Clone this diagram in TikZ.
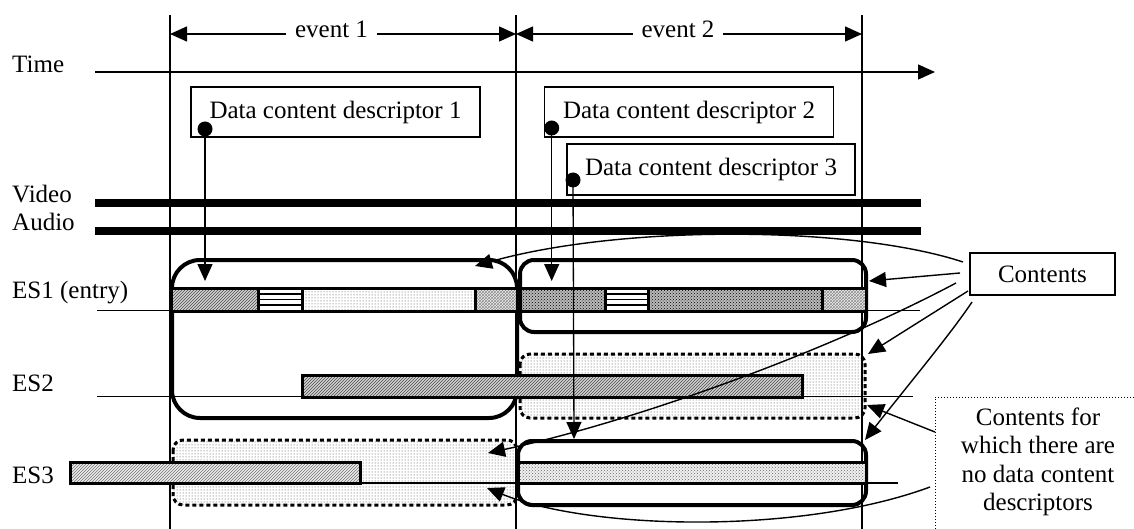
\documentclass[tikz,border=0pt]{standalone}
\usepackage{fontspec}
\setmainfont{Liberation Serif}
\usetikzlibrary{arrows.meta,patterns}
\tikzset{
  thinl/.style={line width=1.3pt},
  tip/.style={-{Triangle[length=17pt,width=15pt]}},
  dtip/.style={{Triangle[length=17pt,width=15pt]}-{Triangle[length=17pt,width=15pt]}},
  lab/.style={anchor=base west, inner sep=0pt},
  evlab/.style={anchor=base, fill=white, inner xsep=9pt, inner ysep=1pt},
  descbox/.style={draw, fill=white, line width=1.5pt, minimum width=289pt, minimum height=50pt, inner sep=0pt},
  dot/.style={circle, fill=black, inner sep=0pt, minimum size=15pt},
  evbox/.style={draw, line width=4pt},
  dotbox/.style={draw, line width=3pt, dash pattern=on 4pt off 3pt, pattern=dots, pattern color=black!75},
  barb/.style={draw, line width=3pt},
  pdiag/.style={preaction={fill=gray!35}, pattern=north east lines, pattern color=black!70},
  pdiaglight/.style={preaction={fill=gray!15}, pattern=north east lines, pattern color=black!55},
  pdots/.style={pattern=dots, pattern color=black!75},
  pcross/.style={preaction={fill=gray!12}, pattern=crosshatch, pattern color=black!45},
  pdark/.style={preaction={fill=gray!55}, pattern=crosshatch dots, pattern color=black},
  pzig/.style={preaction={fill=gray!12}, pattern=crosshatch dots, pattern color=black!60},
  conn/.style={line width=1.4pt, -{Triangle[length=17pt,width=15pt]}}
}
\begin{document}
\begin{tikzpicture}[x=1pt,y=-1pt,font=\fontsize{25}{28.5}\selectfont]
\useasboundingbox (0,0) rectangle (1134,529);

% event boundaries
\coordinate (v1t) at (170,15); \coordinate (v1b) at (170,529);
\coordinate (v2t) at (516,15); \coordinate (v2b) at (516,529);
\coordinate (v3t) at (862,15); \coordinate (v3b) at (862,529);
\draw[thinl] (v1t) -- (v1b);
\draw[thinl] (v2t) -- (v2b);
\draw[thinl] (v3t) -- (v3b);

% event arrows
\coordinate (e1l) at (170,34); \coordinate (e1r) at (516,34);
\coordinate (e2l) at (516,34); \coordinate (e2r) at (862,34);
\draw[thinl, dtip] (e1l) -- (e1r);
\draw[thinl, dtip] (e2l) -- (e2r);
\node[evlab] (ev1) at (331.5,38) {event 1};
\node[evlab] (ev2) at (678,38) {event 2};

% time axis
\node[lab] (time) at (12,73) {Time};
\coordinate (ts) at (95,72); \coordinate (te) at (935,72);
\draw[thinl, tip] (ts) -- (te);

% video / audio
\node[lab] (video) at (12,203) {Video};
\node[lab] (audio) at (12,230.7) {Audio};
\coordinate (vs) at (95,202.7); \coordinate (ve) at (921,202.7);
\coordinate (as) at (95,230.7); \coordinate (ae) at (921,230.7);
\draw[line width=8pt] (vs) -- (ve);
\draw[line width=8pt] (as) -- (ae);

% ES labels and base lines
\node[lab] (es1) at (12,298.3) {ES1 (entry)};
\node[lab] (es2) at (12,391.7) {ES2};
\node[lab] (es3) at (12,483.3) {ES3};
\coordinate (l1s) at (97,310.7); \coordinate (l1e) at (920,310.7);
\coordinate (l2s) at (97,396.7); \coordinate (l2e) at (913,396.7);
\coordinate (l3s) at (97,483); \coordinate (l3e) at (898,483);
\draw[thinl] (l1s) -- (l1e);
\draw[thinl] (l2s) -- (l2e);
\draw[thinl] (l3s) -- (l3e);

% dotted content areas (no descriptor)
\path[dotbox, rounded corners=10pt] (520,354) rectangle (865,418);
\path[dotbox, rounded corners=10pt] (173,440) rectangle (517,505);
\draw[thinl] (800,396.7) -- (865,396.7);
\draw[thinl] (360,483) -- (517,483);

% event boxes (contents)
\draw[evbox, rounded corners=28pt] (172,260) rectangle (517,418);
\draw[evbox, rounded corners=14pt] (520,260) rectangle (866,332);
\draw[evbox, rounded corners=14pt] (518,441) rectangle (866,505);

% ES1 bar segments
\path[pdiag] (171,288) rectangle (258,311);
\path[fill=white] (258,288) rectangle (302,311);
\path[pdots] (302,288) rectangle (475,311);
\path[pcross] (475,288) rectangle (517,311);
\path[pdark] (520,288) rectangle (605,311);
\path[fill=white] (605,288) rectangle (648,311);
\path[pdark] (648,288) rectangle (822,311);
\path[pcross] (822,288) rectangle (866,311);
\foreach \yy in {294,299.5,305}{
  \draw[line width=1.2pt] (258,\yy) -- (302,\yy);
  \draw[line width=1.2pt] (605,\yy) -- (648,\yy);
}
\draw[barb] (171,288) rectangle (866,311);
\foreach \xx in {258,302,475,517,520,605,648,822}{
  \draw[line width=3pt] (\xx,288) -- (\xx,311);
}

% ES2 and ES3 bars
\path[barb, pdiag] (302,375) rectangle (802,397);
\path[barb, pdiaglight] (70,462) rectangle (360,483);
\path[barb, pzig] (518,462) rectangle (866,483);

% data content descriptors
\node[descbox] (d1) at (335.5,112) {Data content descriptor 1};
\node[descbox] (d2) at (689,112) {Data content descriptor 2};
\node[descbox, minimum width=288pt, minimum height=51pt] (d3) at (711,169.5) {Data content descriptor 3};
\node[dot] (p1) at (205,129) {};
\node[dot] (p2) at (551.7,128) {};
\node[dot] (p3) at (573,180) {};
\coordinate (a1) at (205,281);
\coordinate (a2) at (551.7,281);
\coordinate (a3) at (574,439);
\draw[thinl, tip] (p1.center) -- (a1);
\draw[thinl, tip] (p2.center) -- (a2);
\draw[thinl, tip] (p3.center) -- (a3);

% Contents label and arrows
\node[draw, line width=1.5pt, minimum width=145pt, minimum height=42pt, inner sep=0pt] (cont) at (1042.5,274) {Contents};
\coordinate (c1s) at (963,262); \coordinate (c1e) at (475,266);
\coordinate (c2s) at (960,273); \coordinate (c2e) at (869,281);
\coordinate (c3s) at (956,283); \coordinate (c3e) at (488,453);
\coordinate (c4s) at (968,291); \coordinate (c4e) at (868,354);
\coordinate (c5s) at (972,302); \coordinate (c5e) at (865,440);
\draw[conn] (c1s) .. controls (850,225) and (620,225) .. (c1e);
\draw[conn] (c2s) -- (c2e);
\draw[conn] (c3s) .. controls (830,350) and (640,420) .. (c3e);
\draw[conn] (c4s) -- (c4e);
\draw[conn] (c5s) .. controls (950,335) and (900,395) .. (c5e);

% no-descriptor label and arrows
\coordinate (nb1) at (1140,397); \coordinate (nb2) at (935,397); \coordinate (nb3) at (935,535);
\draw[line width=1pt, dash pattern=on 1.2pt off 1.8pt] (nb1) -- (nb2) -- (nb3);
\node[align=center, inner sep=0pt] (nodesc) at (1038,462) {Contents for\\which there are\\no data content\\descriptors};
\coordinate (fs) at (935,432); \coordinate (fe) at (867,405);
\coordinate (gs) at (930,487); \coordinate (ge) at (487,488);
\draw[conn] (fs) -- (fe);
\draw[conn] (gs) .. controls (800,535) and (590,530) .. (ge);
\end{tikzpicture}
\end{document}
